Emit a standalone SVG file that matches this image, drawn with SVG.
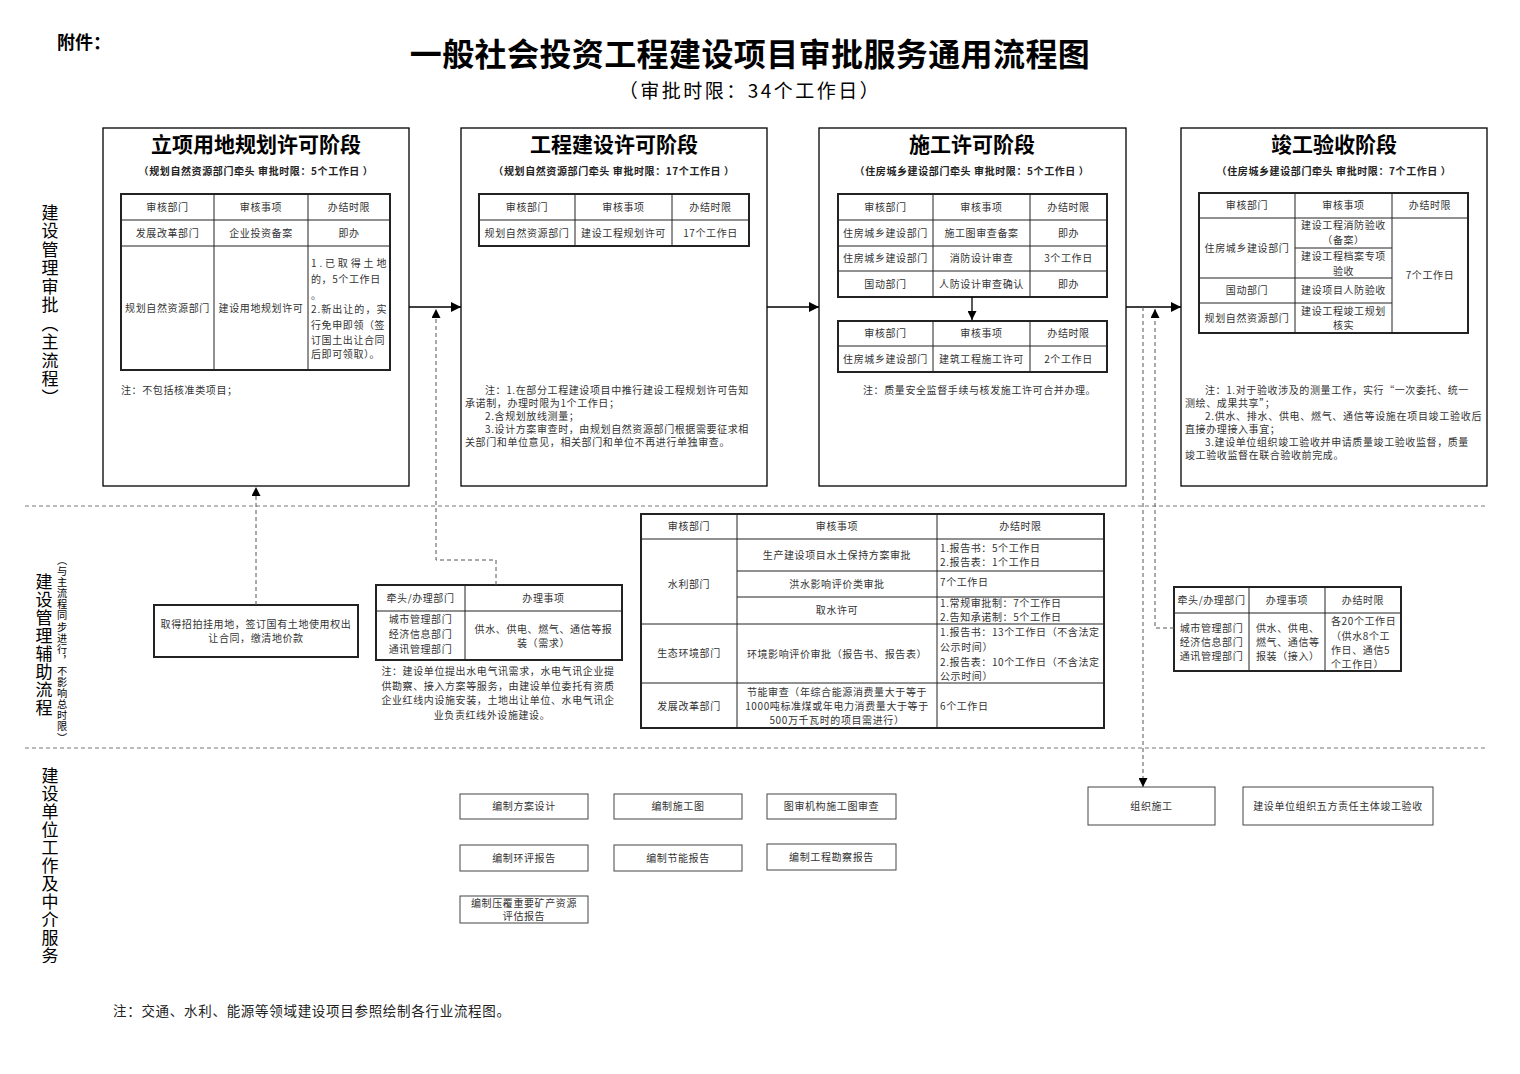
<svg xmlns="http://www.w3.org/2000/svg" width="1520" height="1074" viewBox="0 0 1520 1074">
<defs>
<marker id="ah" viewBox="0 0 10 10" refX="10" refY="5" markerWidth="12" markerHeight="10" markerUnits="userSpaceOnUse" orient="auto"><path d="M0,0 L10,5 L0,10 z" fill="#000"/></marker>
<marker id="ahs" viewBox="0 0 10 10" refX="10" refY="5" markerWidth="10" markerHeight="9" markerUnits="userSpaceOnUse" orient="auto"><path d="M0,0 L10,5 L0,10 z" fill="#000"/></marker>
</defs>
<style>
text{font-family:"Noto Sans CJK SC","Noto Sans",sans-serif;}
.t{font-size:10px;fill:#333;letter-spacing:0.6px}
.c{text-anchor:middle}
.frame{fill:none;stroke:#000;stroke-width:1.3}
.tb{fill:none;stroke:#222;stroke-width:2}
.ln{stroke:#222;stroke-width:1;fill:none}
.sb{fill:none;stroke:#444;stroke-width:1}
.arr{stroke:#000;stroke-width:1.3;fill:none}
.dash{stroke:#555;stroke-width:1;stroke-dasharray:4 3;fill:none}
.sep{stroke:#777;stroke-width:1;stroke-dasharray:4 3}
.st{font-size:21px;font-weight:bold;fill:#000;text-anchor:middle}
.sub{font-size:10px;font-weight:bold;fill:#222;text-anchor:middle;letter-spacing:0.6px}
.lane{font-size:17px;fill:#000;writing-mode:vertical-rl;letter-spacing:1.5px}
</style>
<rect x="0" y="0" width="1520" height="1074" fill="#fff"/>

<g id="header">
<text x="57" y="49" font-size="18" font-weight="bold" fill="#000">附件：</text>
<text x="750" y="66" font-size="32" font-weight="bold" fill="#000" text-anchor="middle" letter-spacing="0.4">一般社会投资工程建设项目审批服务通用流程图</text>
<text x="750" y="98" font-size="19" fill="#000" text-anchor="middle" letter-spacing="2.5">（审批时限：34个工作日）</text>
</g>

<g id="lanes">
<line class="sep" x1="25" y1="506" x2="1485" y2="506"/>
<line class="sep" x1="25" y1="748" x2="1485" y2="748"/>
<text class="lane" x="50" y="204">建设管理审批（主流程）</text>
<text class="lane" x="44" y="573" style="letter-spacing:1px">建设管理辅助流程</text>
<text class="lane" x="62" y="555" style="font-size:10.2px;letter-spacing:0.9px">（与主流程同步进行，不影响总时限）</text>
<text class="lane" x="50" y="767" style="letter-spacing:1px">建设单位工作及中介服务</text>
</g>

<g id="stage1">
<rect class="frame" x="103" y="128" width="306" height="358"/>
<text class="st" x="256" y="152">立项用地规划许可阶段</text>
<text class="sub" x="256" y="174.5">（规划自然资源部门牵头 审批时限：5个工作日 ）</text>
<rect class="tb" x="121" y="194" width="269" height="176"/>
<path class="ln" d="M214,194 V370 M308,194 V370 M121,220 H390 M121,246 H390"/>
<text class="t c" x="167.5" y="210.5">审核部门</text>
<text class="t c" x="261" y="210.5">审核事项</text>
<text class="t c" x="349" y="210.5">办结时限</text>
<text class="t c" x="167.5" y="236.5">发展改革部门</text>
<text class="t c" x="261" y="236.5">企业投资备案</text>
<text class="t c" x="349" y="236.5">即办</text>
<text class="t c" x="167.5" y="311.5">规划自然资源部门</text>
<text class="t c" x="261" y="311.5">建设用地规划许可</text>
<text class="t" x="311" y="266.5" textLength="76" lengthAdjust="spacing">1.已取得土地</text>
<text class="t" x="311" y="282.5">的，5个工作日</text>
<text class="t" x="311" y="298.5">。</text>
<text class="t" x="311" y="312.5" textLength="76" lengthAdjust="spacing">2.新出让的，实</text>
<text class="t" x="311" y="328.5">行免申即领（签</text>
<text class="t" x="311" y="343.5">订国土出让合同</text>
<text class="t" x="311" y="357.5">后即可领取）。</text>
<text class="t" x="121" y="393.5">注：不包括核准类项目；</text>
</g>

<g id="stage2">
<rect class="frame" x="461" y="128" width="306" height="358"/>
<text class="st" x="614" y="152">工程建设许可阶段</text>
<text class="sub" x="614" y="174.5">（规划自然资源部门牵头 审批时限：17个工作日 ）</text>
<rect class="tb" x="479" y="194" width="270" height="52"/>
<path class="ln" d="M575,194 V246 M672,194 V246 M479,220 H749"/>
<text class="t c" x="527" y="210.5">审核部门</text>
<text class="t c" x="623.5" y="210.5">审核事项</text>
<text class="t c" x="710.5" y="210.5">办结时限</text>
<text class="t c" x="527" y="236.5">规划自然资源部门</text>
<text class="t c" x="623.5" y="236.5">建设工程规划许可</text>
<text class="t c" x="710.5" y="236.5">17个工作日</text>
<text class="t" x="485" y="393.5">注：1.在部分工程建设项目中推行建设工程规划许可告知</text>
<text class="t" x="465" y="406.5">承诺制，办理时限为1个工作日；</text>
<text class="t" x="485" y="419.5">2.含规划放线测量；</text>
<text class="t" x="485" y="432.5">3.设计方案审查时，由规划自然资源部门根据需要征求相</text>
<text class="t" x="465" y="445.5">关部门和单位意见，相关部门和单位不再进行单独审查。</text>
</g>

<g id="stage3">
<rect class="frame" x="819" y="128" width="307" height="358"/>
<text class="st" x="972" y="152">施工许可阶段</text>
<text class="sub" x="972" y="174.5">（住房城乡建设部门牵头 审批时限：5个工作日 ）</text>
<rect class="tb" x="838" y="194" width="269" height="103"/>
<path class="ln" d="M933,194 V297 M1030,194 V297 M838,220 H1107 M838,246 H1107 M838,271 H1107"/>
<text class="t c" x="885.5" y="210.5">审核部门</text>
<text class="t c" x="981.5" y="210.5">审核事项</text>
<text class="t c" x="1068.5" y="210.5">办结时限</text>
<text class="t c" x="885.5" y="236.5">住房城乡建设部门</text>
<text class="t c" x="981.5" y="236.5">施工图审查备案</text>
<text class="t c" x="1068.5" y="236.5">即办</text>
<text class="t c" x="885.5" y="262">住房城乡建设部门</text>
<text class="t c" x="981.5" y="262">消防设计审查</text>
<text class="t c" x="1068.5" y="262">3个工作日</text>
<text class="t c" x="885.5" y="287.5">国动部门</text>
<text class="t c" x="981.5" y="287.5">人防设计审查确认</text>
<text class="t c" x="1068.5" y="287.5">即办</text>
<rect class="tb" x="838" y="321" width="269" height="51"/>
<path class="ln" d="M933,321 V372 M1030,321 V372 M838,346 H1107"/>
<text class="t c" x="885.5" y="337">审核部门</text>
<text class="t c" x="981.5" y="337">审核事项</text>
<text class="t c" x="1068.5" y="337">办结时限</text>
<text class="t c" x="885.5" y="362.5">住房城乡建设部门</text>
<text class="t c" x="981.5" y="362.5">建筑工程施工许可</text>
<text class="t c" x="1068.5" y="362.5">2个工作日</text>
<text class="t" x="863" y="393.5">注：质量安全监督手续与核发施工许可合并办理。</text>
</g>

<g id="stage4">
<rect class="frame" x="1181" y="128" width="306" height="358"/>
<text class="st" x="1334" y="152">竣工验收阶段</text>
<text class="sub" x="1334" y="174.5">（住房城乡建设部门牵头 审批时限：7个工作日 ）</text>
<rect class="tb" x="1199" y="193" width="269" height="140"/>
<path class="ln" d="M1295,193 V333 M1392,193 V333 M1199,218 H1468 M1295,248 H1392 M1199,278 H1392 M1199,303 H1392"/>
<text class="t c" x="1247" y="209">审核部门</text>
<text class="t c" x="1343.5" y="209">审核事项</text>
<text class="t c" x="1430" y="209">办结时限</text>
<text class="t c" x="1247" y="251.5">住房城乡建设部门</text>
<text class="t c" x="1247" y="294">国动部门</text>
<text class="t c" x="1247" y="321.5">规划自然资源部门</text>
<text class="t c" x="1343.5" y="228.5">建设工程消防验收</text>
<text class="t c" x="1343.5" y="243.5">（备案）</text>
<text class="t c" x="1343.5" y="259.5">建设工程档案专项</text>
<text class="t c" x="1343.5" y="274.5">验收</text>
<text class="t c" x="1343.5" y="294">建设项目人防验收</text>
<text class="t c" x="1343.5" y="314.5">建设工程竣工规划</text>
<text class="t c" x="1343.5" y="328.5">核实</text>
<text class="t c" x="1430" y="279">7个工作日</text>
<text class="t" x="1205" y="393.5">注：1.对于验收涉及的测量工作，实行“一次委托、统一</text>
<text class="t" x="1185" y="406.5">测绘、成果共享”；</text>
<text class="t" x="1205" y="419.5" textLength="277" lengthAdjust="spacing">2.供水、排水、供电、燃气、通信等设施在项目竣工验收后</text>
<text class="t" x="1185" y="432.5">直接办理接入事宜；</text>
<text class="t" x="1205" y="445.5">3.建设单位组织竣工验收并申请质量竣工验收监督，质量</text>
<text class="t" x="1185" y="458.5">竣工验收监督在联合验收前完成。</text>
</g>

<g id="aux-land">
<rect class="tb" x="154" y="605" width="204" height="52" stroke-width="1.5"/>
<text class="t c" x="256" y="627.5">取得招拍挂用地，签订国有土地使用权出</text>
<text class="t c" x="256" y="641.5">让合同，缴清地价款</text>
</g>

<g id="aux-utility-need">
<rect class="tb" x="376" y="585" width="246" height="75"/>
<path class="ln" d="M465,585 V660 M376,611 H622"/>
<text class="t c" x="420.5" y="601.5">牵头/办理部门</text>
<text class="t c" x="543.5" y="601.5">办理事项</text>
<text class="t c" x="420.5" y="622.5">城市管理部门</text>
<text class="t c" x="420.5" y="637.5">经济信息部门</text>
<text class="t c" x="420.5" y="652.5">通讯管理部门</text>
<text class="t c" x="543.5" y="632.5">供水、供电、燃气、通信等报</text>
<text class="t c" x="543.5" y="646.5">装（需求）</text>
<text class="t c" x="498" y="674.5">注：建设单位提出水电气讯需求，水电气讯企业提</text>
<text class="t c" x="498" y="689.5">供勘察、接入方案等服务，由建设单位委托有资质</text>
<text class="t c" x="498" y="703.5">企业红线内设施安装，土地出让单位、水电气讯企</text>
<text class="t c" x="492" y="718.5">业负责红线外设施建设。</text>
</g>

<g id="aux-approvals">
<rect class="tb" x="641" y="514" width="463" height="214"/>
<path class="ln" d="M737,514 V728 M937,514 V728 M641,539 H1104 M737,571 H1104 M737,597 H1104 M641,624 H1104 M641,683 H1104"/>
<text class="t c" x="689" y="530">审核部门</text>
<text class="t c" x="837" y="530">审核事项</text>
<text class="t c" x="1020.5" y="530">办结时限</text>
<text class="t c" x="689" y="587.5">水利部门</text>
<text class="t c" x="689" y="656.5">生态环境部门</text>
<text class="t c" x="689" y="709.5">发展改革部门</text>
<text class="t c" x="837" y="558.5">生产建设项目水土保持方案审批</text>
<text class="t c" x="837" y="587.5">洪水影响评价类审批</text>
<text class="t c" x="837" y="613.5">取水许可</text>
<text class="t c" x="837" y="657.5">环境影响评价审批（报告书、报告表）</text>
<text class="t c" x="837" y="695.5">节能审查（年综合能源消费量大于等于</text>
<text class="t c" x="837" y="709.5">1000吨标准煤或年电力消费量大于等于</text>
<text class="t c" x="837" y="723.5">500万千瓦时的项目需进行）</text>
<text class="t" x="940" y="551.5">1.报告书：5个工作日</text>
<text class="t" x="940" y="565.5">2.报告表：1个工作日</text>
<text class="t" x="940" y="585.5">7个工作日</text>
<text class="t" x="940" y="606.5">1.常规审批制：7个工作日</text>
<text class="t" x="940" y="620.5">2.告知承诺制：5个工作日</text>
<text class="t" x="940" y="635.5">1.报告书：13个工作日（不含法定</text>
<text class="t" x="940" y="650.5">公示时间）</text>
<text class="t" x="940" y="665.5">2.报告表：10个工作日（不含法定</text>
<text class="t" x="940" y="679.5">公示时间）</text>
<text class="t" x="940" y="709.5">6个工作日</text>
</g>

<g id="aux-utility-connect">
<rect class="tb" x="1174" y="587" width="227" height="84"/>
<path class="ln" d="M1249,587 V671 M1325,587 V671 M1174,613 H1401"/>
<text class="t c" x="1211.5" y="603.5">牵头/办理部门</text>
<text class="t c" x="1287" y="603.5">办理事项</text>
<text class="t c" x="1363" y="603.5">办结时限</text>
<text class="t c" x="1211.5" y="631.5">城市管理部门</text>
<text class="t c" x="1211.5" y="645.5">经济信息部门</text>
<text class="t c" x="1211.5" y="659.5">通讯管理部门</text>
<text class="t" x="1256" y="631.5">供水、供电、</text>
<text class="t" x="1256" y="645.5">燃气、通信等</text>
<text class="t" x="1256" y="659.5">报装（接入）</text>
<text class="t" x="1331" y="624.5">各20个工作日</text>
<text class="t" x="1331" y="639.5">（供水8个工</text>
<text class="t" x="1331" y="653.5">作日、通信5</text>
<text class="t" x="1331" y="667.5">个工作日）</text>
</g>

<g id="work-1"><rect class="sb" x="460" y="794" width="128" height="25"/><text class="t c" x="524" y="810">编制方案设计</text></g>
<g id="work-2"><rect class="sb" x="614" y="794" width="128" height="25"/><text class="t c" x="678" y="810">编制施工图</text></g>
<g id="work-3"><rect class="sb" x="767" y="794" width="129" height="25"/><text class="t c" x="831.5" y="810">图审机构施工图审查</text></g>
<g id="work-4"><rect class="sb" x="460" y="845" width="128" height="26"/><text class="t c" x="524" y="861.5">编制环评报告</text></g>
<g id="work-5"><rect class="sb" x="614" y="845" width="128" height="26"/><text class="t c" x="678" y="861.5">编制节能报告</text></g>
<g id="work-6"><rect class="sb" x="767" y="844" width="129" height="26"/><text class="t c" x="831.5" y="860.5">编制工程勘察报告</text></g>
<g id="work-7"><rect class="sb" x="460" y="896" width="128" height="27"/><text class="t c" x="524" y="906.5">编制压覆重要矿产资源</text><text class="t c" x="524" y="919.5">评估报告</text></g>
<g id="work-8"><rect class="sb" x="1088" y="787" width="127" height="38"/><text class="t c" x="1151.5" y="809.5">组织施工</text></g>
<g id="work-9"><rect class="sb" x="1243" y="787" width="190" height="38"/><text class="t c" x="1338" y="809.5">建设单位组织五方责任主体竣工验收</text></g>

<g id="connectors">
<path class="arr" d="M409,307 H461" marker-end="url(#ah)"/>
<path class="arr" d="M767,307 H819" marker-end="url(#ah)"/>
<path class="arr" d="M1126,307 H1181" marker-end="url(#ah)"/>
<path class="arr" d="M972,297 V320" stroke-width="1" marker-end="url(#ahs)"/>
<path class="dash" d="M256,605 V487" marker-end="url(#ahs)"/>
<path class="dash" d="M496,585 V560 H436 V309" marker-end="url(#ahs)"/>
<path class="dash" d="M1174,628 H1155 V309" marker-end="url(#ahs)"/>
<path class="dash" d="M1143,307 V787" marker-end="url(#ahs)"/>
</g>

<text x="113" y="1016" font-size="13.5" fill="#222" textLength="397" lengthAdjust="spacing">注：交通、水利、能源等领域建设项目参照绘制各行业流程图。</text>
</svg>
